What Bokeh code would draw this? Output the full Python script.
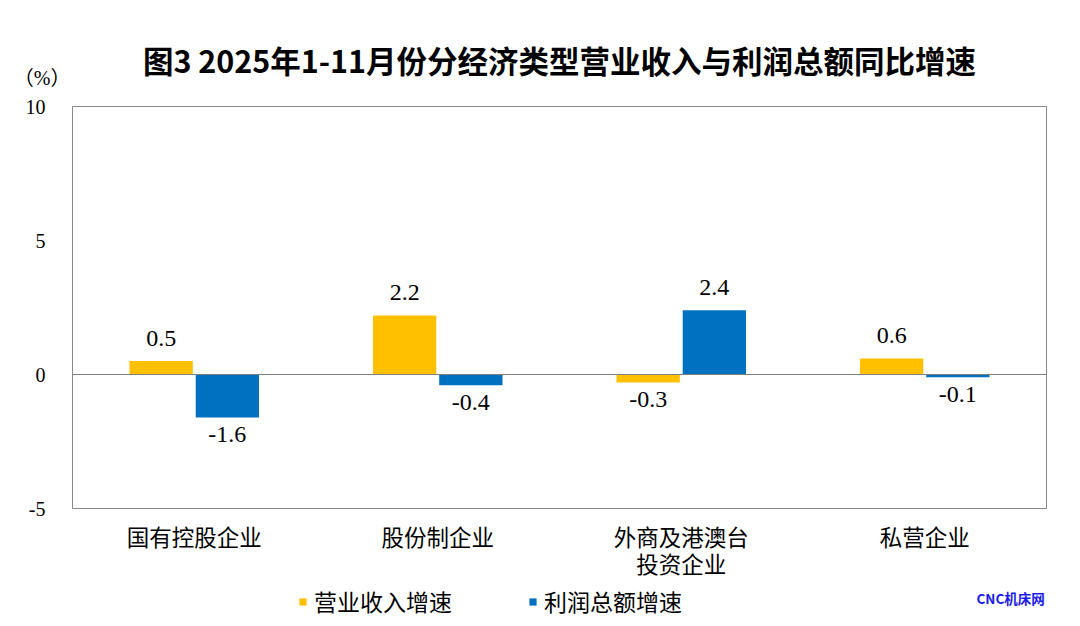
from bokeh.plotting import figure
from bokeh.layouts import column
from bokeh.models import (FactorRange, Range1d, FixedTicker, Span, Legend, Label,
                          LegendItem, ColumnDataSource)
from bokeh.transform import dodge
from bokeh.core.properties import value
from bokeh.embed import file_html
from bokeh.resources import INLINE

# ---- data ----
categories = ["国有控股企业", "股份制企业", "外商及港澳台\n投资企业", "私营企业"]
revenue = [0.5, 2.2, -0.3, 0.6]
profit = [-1.6, -0.4, 2.4, -0.1]
series_names = ["营业收入增速", "利润总额增速"]
y_ticks = [-5, 0, 5, 10]
y_unit = "（%）"
title_text = "图3 2025年1-11月份分经济类型营业收入与利润总额同比增速"
watermark = "CNC机床网"

YELLOW = "#FFC000"
BLUE = "#0070C0"
SERIF = "Liberation Serif, Noto Sans CJK SC"
CJK = "Noto Sans CJK SC"
NB = "\u00a0" * 5
W = 1072
LEFT, RIGHT = 72, 26
MAIN_H, FH = 582, 36


def fmt(v):
    return f"{v:.1f}"


src = ColumnDataSource(dict(
    cat=categories,
    rev=revenue,
    pro=profit,
    rev_lbl=[fmt(v) for v in revenue],
    pro_lbl=[fmt(v) for v in profit],
    rev_off=[-23 if v >= 0 else 17 for v in revenue],
    pro_off=[-23 if v >= 0 else 17 for v in profit],
))

p = figure(width=W, height=MAIN_H, x_range=FactorRange(*categories),
           y_range=Range1d(-5, 10), output_backend="svg", toolbar_location=None,
           min_border_left=LEFT, min_border_right=RIGHT, min_border_top=106,
           min_border_bottom=MAIN_H - 106 - 402)

p.background_fill_color = "white"
p.border_fill_color = "white"
p.outline_line_color = "#898989"
p.outline_line_width = 1
p.xgrid.grid_line_color = None
p.ygrid.grid_line_color = None

# title
p.title.text = title_text
p.title.align = "center"
p.title.text_font = CJK
p.title.text_font_size = "30.5px"
p.title.text_font_style = "bold"
p.title.text_color = "#000000"
p.title.standoff = 50

# axes
for ax in (p.xaxis[0], p.yaxis[0]):
    ax.axis_line_color = None
    ax.major_tick_line_color = None
    ax.minor_tick_line_color = None
    ax.major_tick_out = 0
    ax.major_tick_in = 0
    ax.major_label_text_color = "#000000"

p.yaxis.ticker = FixedTicker(ticks=y_ticks)
overrides = {t: f"{t}{NB}" for t in y_ticks}
overrides[y_ticks[-1]] = f"{y_unit}\n{y_ticks[-1]}{NB}\n{NB}"
p.yaxis.major_label_overrides = overrides
p.yaxis.major_label_text_font = SERIF
p.yaxis.major_label_text_font_size = "20px"
p.yaxis.major_label_text_line_height = 1.28
p.yaxis.major_label_standoff = 2

p.xaxis.major_label_text_font = CJK
p.xaxis.major_label_text_font_size = "22.5px"
p.xaxis.major_label_standoff = 11
p.xaxis.major_label_text_line_height = 0.87

# zero line
p.add_layout(Span(location=0, dimension="width", line_color="#7f7f7f", line_width=1))

off = 0.136
bw = 0.26
p.vbar(x=dodge("cat", -off, range=p.x_range), top="rev", width=bw, source=src,
       fill_color=YELLOW, line_color=None)
p.vbar(x=dodge("cat", off, range=p.x_range), top="pro", width=bw, source=src,
       fill_color=BLUE, line_color=None)

# value labels
p.text(x=dodge("cat", -off, range=p.x_range), y="rev", text="rev_lbl", y_offset="rev_off",
       source=src, text_font=value(SERIF), text_font_size="24px", text_align="center",
       text_baseline="middle", text_color="#000000")
p.text(x=dodge("cat", off, range=p.x_range), y="pro", text="pro_lbl", y_offset="pro_off",
       source=src, text_font=value(SERIF), text_font_size="24px", text_align="center",
       text_baseline="middle", text_color="#000000")

# ---- footer strip: legend + watermark (frame aligned with main frame) ----
f = figure(width=W, height=FH, x_range=Range1d(LEFT, W - RIGHT), y_range=Range1d(0, FH),
           output_backend="svg", toolbar_location=None, x_axis_type=None,
           y_axis_type=None, min_border_left=LEFT, min_border_right=RIGHT,
           min_border_top=0, min_border_bottom=0)
f.outline_line_color = None
f.grid.visible = False
f.background_fill_color = "white"
f.border_fill_color = "white"
# zero-size stand-in renderers that only provide the legend swatches
key = ColumnDataSource(dict(x=[0], top=[0]))
l1 = f.vbar(x="x", top="top", width=0, source=key, fill_color=YELLOW, line_color=None)
l2 = f.vbar(x="x", top="top", width=0, source=key, fill_color=BLUE, line_color=None)

legend = Legend(items=[LegendItem(label=series_names[0], renderers=[l1]),
                       LegendItem(label=series_names[1], renderers=[l2])],
                orientation="horizontal", location=(226, 0),
                glyph_width=9, glyph_height=9, label_standoff=7, spacing=76,
                padding=0, margin=0, border_line_color=None,
                background_fill_alpha=0, label_text_font=CJK,
                label_text_font_size="23px", label_text_line_height=0.75,
                label_height=18, label_text_color="#000000")
f.add_layout(legend, "center")

f.add_layout(Label(x=976, y=21, text=watermark, text_font=CJK, text_font_size="13.5px",
                   text_font_style="bold", text_align="left", text_baseline="middle",
                   text_color="#1a1aee"))

layout = column(p, f, spacing=0)
open("out.html", "w").write(file_html(layout, INLINE))
